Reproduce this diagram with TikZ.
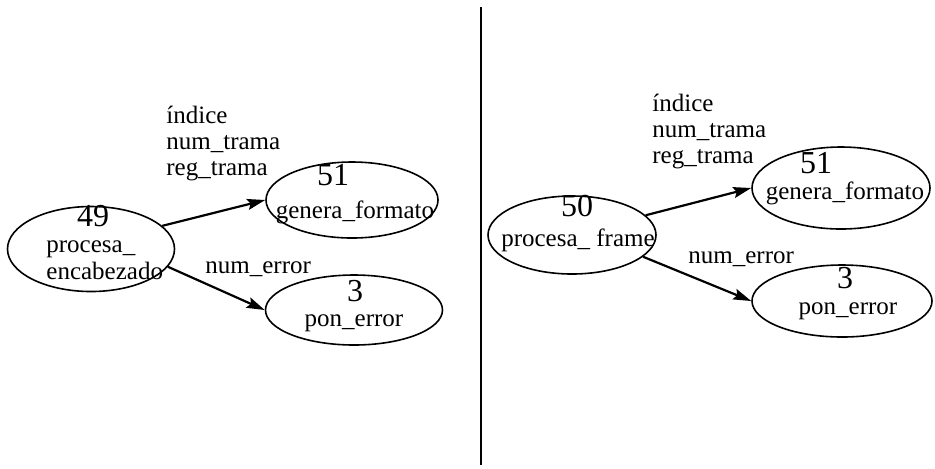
\documentclass[tikz,border=0pt]{standalone}
\usepackage{fontspec}
\setmainfont{Liberation Serif}
\usetikzlibrary{arrows.meta, shapes.geometric}

\tikzset{
  proc/.style={draw, ellipse, line width=0.8pt, inner sep=0pt},
  num/.style={anchor=base, inner sep=0pt, font=\fontsize{16}{18}\selectfont},
  pname/.style={anchor=base, inner sep=0pt, align=center, font=\fontsize{12.5}{13.5}\selectfont},
  dataflow/.style={-{Stealth[length=9pt, width=5.5pt, inset=1.5pt]}, line width=1.1pt},
  flowlabel/.style={anchor=base west, inner sep=0pt, align=left, font=\fontsize{12.5}{13}\selectfont}
}

\begin{document}
\begin{tikzpicture}[x=0.5pt, y=-0.5pt]
    \useasboundingbox (0,0) rectangle (935,468);

    % Separator
    \draw[line width=1pt] (481,7) -- (481,465);

    % Left diagram: processes
    \node[proc, minimum width=83.5pt, minimum height=42.5pt] (e49) at (91,249) {};
    \node[num] (n49) at (93,226) {49};
    \node[pname, anchor=base west, align=left] (t49) at (46,279) {procesa\_\\encabezado};

    \node[proc, minimum width=86pt, minimum height=38pt] (e51a) at (352,200) {};
    \node[num] (n51a) at (333,185) {51};
    \node[pname] (t51a) at (355,218) {genera\_formato};

    \node[proc, minimum width=88.5pt, minimum height=35pt] (e3a) at (354,310) {};
    \node[num] (n3a) at (355,301) {3};
    \node[pname] (t3a) at (354,326) {pon\_error};

    % Left diagram: flows
    \draw[dataflow] (e49.18) -- (e51a.west);
    \draw[dataflow] (e49.-13) -- (e3a.west);
    \node[flowlabel] (f1a) at (166,175) {índice\\num\_trama\\reg\_trama};
    \node[flowlabel] (f2a) at (205,273) {num\_error};

    % Right diagram: processes
    \node[proc, minimum width=84pt, minimum height=39pt] (e50) at (572,235) {};
    \node[num] (n50) at (577,216) {50};
    \node[pname] (t50) at (578,246) {procesa\_ frame};

    \node[proc, minimum width=89pt, minimum height=41pt] (e51b) at (841,188) {};
    \node[num] (n51b) at (816,173) {51};
    \node[pname] (t51b) at (845,199) {genera\_formato};

    \node[proc, minimum width=90pt, minimum height=36pt] (e3b) at (842,301) {};
    \node[num] (n3b) at (845,288) {3};
    \node[pname] (t3b) at (848,314) {pon\_error};

    % Right diagram: flows
    \draw[dataflow] (e50.15) -- (e51b.west);
    \draw[dataflow] (e50.-17) -- (e3b.west);
    \node[flowlabel] (f1b) at (652,163) {índice\\num\_trama\\reg\_trama};
    \node[flowlabel] (f2b) at (688,263) {num\_error};
\end{tikzpicture}
\end{document}
